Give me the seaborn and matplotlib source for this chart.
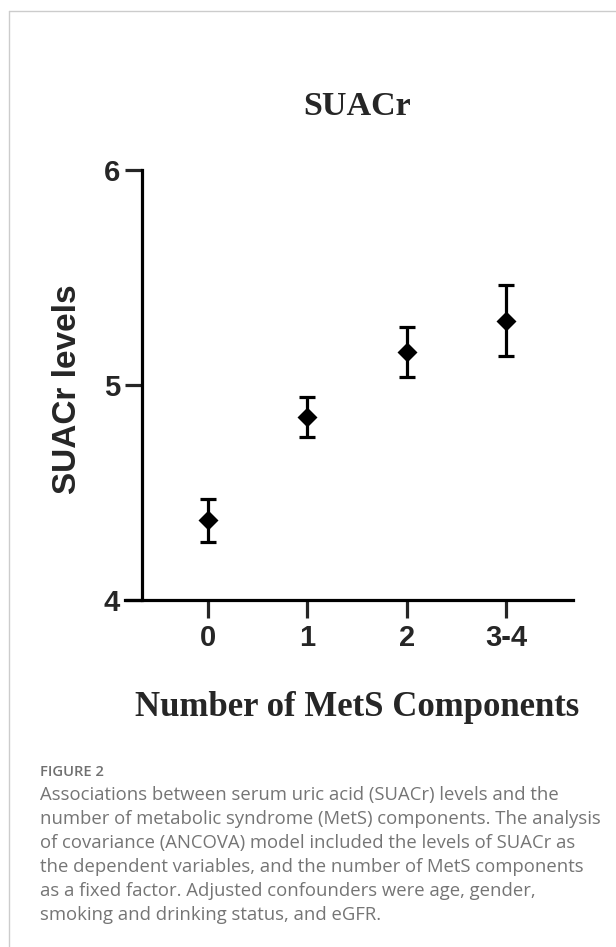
import matplotlib
matplotlib.use("Agg")
import matplotlib.pyplot as plt
import matplotlib.lines as mlines
import numpy as np
import pandas as pd
import seaborn as sns

# values (adjusted means +/- error)
groups = ["0", "1", "2", "3-4"]
means = [4.37, 4.85, 5.155, 5.30]
errs = [0.10, 0.093, 0.116, 0.165]
y_ticks = [4, 5, 6]

caption_head = "FIGURE 2"
caption_lines = [
    "Associations between serum uric acid (SUACr) levels and the",
    "number of metabolic syndrome (MetS) components. The analysis",
    "of covariance (ANCOVA) model included the levels of SUACr as",
    "the dependent variables, and the number of MetS components",
    "as a fixed factor. Adjusted confounders were age, gender,",
    "smoking and drinking status, and eGFR.",
]

df = pd.DataFrame({"group": groups, "mean": means, "err": errs})

sns.set_style("white")
plt.rcParams["font.family"] = ["Liberation Sans", "DejaVu Sans"]

W, H = 616, 947
fig = plt.figure(figsize=(W / 100, H / 100), dpi=100)

def fx(px):
    return px / W

def fy(py):
    return 1 - py / H

ax = fig.add_axes([fx(125), fy(600), fx(573) - fx(125), fy(170) - fy(600)])

sns.pointplot(data=df, x="group", y="mean", order=groups, ax=ax,
              color="black", markers="D", linestyle="none", errorbar=None,
              markersize=8.5)
ax.errorbar(x=np.arange(len(groups)), y=df["mean"], yerr=df["err"],
            fmt="none", ecolor="black", elinewidth=2.3, capsize=6,
            capthick=2.3, zorder=3)

ax.set_ylim(4, 6)
ax.set_xlim(-0.836, 3.675)
ax.set_yticks(y_ticks)
ax.set_xlabel("")
ax.set_ylabel("")

for s in ["top", "right"]:
    ax.spines[s].set_visible(False)
ax.spines["left"].set_position(("axes", 0.038))
for s in ["left", "bottom"]:
    ax.spines[s].set_linewidth(2.3)
    ax.spines[s].set_color("black")

ax.tick_params(axis="y", direction="out", length=12.2, width=2.3, pad=3.5,
               labelsize=21, left=True)
ax.tick_params(axis="x", direction="out", length=13, width=2.3, pad=4.5,
               labelsize=21, bottom=True)
for lab in ax.get_xticklabels() + ax.get_yticklabels():
    lab.set_fontweight("bold")

fig.text(fx(357), fy(115), "SUACr", ha="center", va="baseline",
         family="Liberation Serif", fontweight="bold", fontsize=24.5)
fig.text(fx(357), fy(716), "Number of MetS Components", ha="center",
         va="baseline", family="Liberation Serif", fontweight="bold",
         fontsize=25)
fig.text(fx(67), fy(389), "SUACr levels", ha="center", va="center",
         rotation=90, fontweight="bold", fontsize=24)

# frame of the page figure
fig.add_artist(mlines.Line2D([fx(9), 1], [fy(11), fy(11)], color="#cccccc",
                             lw=1, transform=fig.transFigure))
fig.add_artist(mlines.Line2D([fx(9), fx(9)], [fy(11), 0], color="#cccccc",
                             lw=1, transform=fig.transFigure))

fig.text(fx(40), fy(776), caption_head, ha="left", va="baseline",
         family="Open Sans", fontweight="semibold", fontsize=10.6,
         color="#707070")
for i, line in enumerate(caption_lines):
    fig.text(fx(40), fy(800 + 24 * i), line, ha="left", va="baseline",
             family="Open Sans", fontsize=13.3, color="#757575")

fig.savefig("out.png", dpi=100)
